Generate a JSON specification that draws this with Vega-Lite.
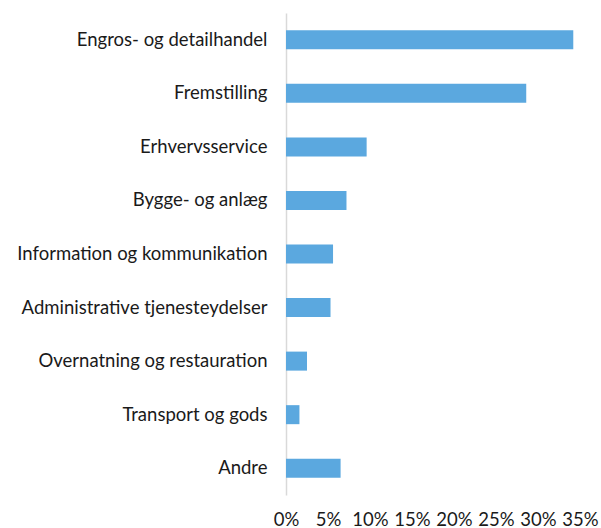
{
  "$schema": "https://vega.github.io/schema/vega-lite/v6.json",
  "autosize": {"type": "none"},
  "padding": {"left": 286, "top": 13, "right": 21, "bottom": 33},
  "width": 294,
  "height": 482,
  "background": "white",
  "config": {"view": {"stroke": null}, "font": "Lato"},
  "data": {"values": [
    {"sektor": "Engros- og detailhandel", "andel": 0.342},
    {"sektor": "Fremstilling", "andel": 0.286},
    {"sektor": "Erhvervsservice", "andel": 0.096},
    {"sektor": "Bygge- og anlæg", "andel": 0.072},
    {"sektor": "Information og kommunikation", "andel": 0.056},
    {"sektor": "Administrative tjenesteydelser", "andel": 0.053},
    {"sektor": "Overnatning og restauration", "andel": 0.025},
    {"sektor": "Transport og gods", "andel": 0.016},
    {"sektor": "Andre", "andel": 0.065}
  ]},
  "mark": {"type": "bar", "color": "#5BA8DF"},
  "encoding": {
    "y": {
      "field": "sektor", "type": "nominal", "sort": null,
      "scale": {"paddingInner": 0.645, "paddingOuter": 0.3225},
      "axis": {"title": null, "ticks": false, "domainColor": "#d9d9d9", "domainWidth": 1.5,
               "labelPadding": 19, "labelFontSize": 18.5, "labelColor": "#1a1a1a", "labelLimit": 300}
    },
    "x": {
      "field": "andel", "type": "quantitative",
      "scale": {"domain": [0, 0.35], "nice": false},
      "axis": {"title": null, "format": ".0%", "values": [0, 0.05, 0.1, 0.15, 0.2, 0.25, 0.3, 0.35],
               "domain": false, "ticks": false, "grid": false, "labelPadding": 15,
               "labelFontSize": 18.5, "labelColor": "#1a1a1a", "labelFlush": false, "labelOverlap": false, "labelBound": false}
    }
  }
}
